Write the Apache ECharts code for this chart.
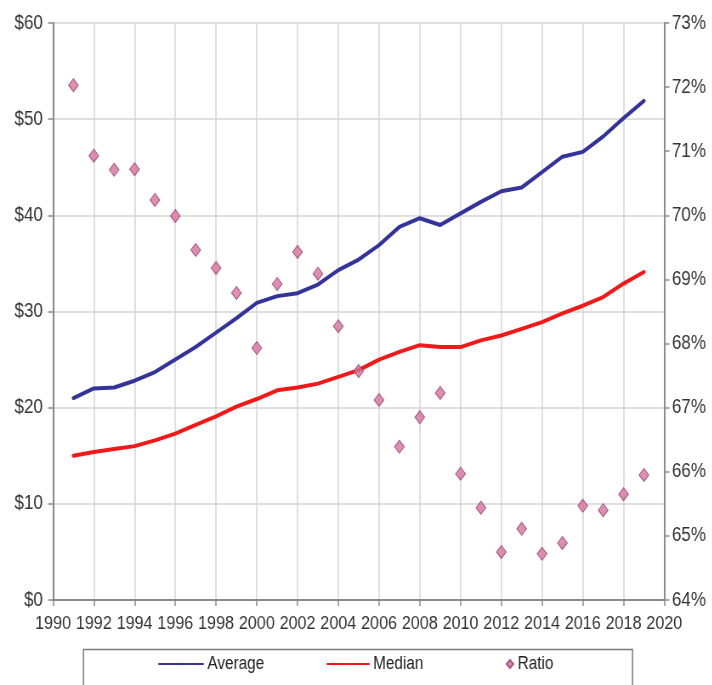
<!DOCTYPE html>
<html>
<head>
<meta charset="utf-8">
<script src="https://cdn.jsdelivr.net/npm/echarts@6/dist/echarts.min.js"></script>
<style>
  html, body { margin: 0; padding: 0; background: #ffffff; overflow: hidden; width: 712px; height: 685px; }
  /* the chart is drawn wide and narrowed horizontally for condensed lettering */
  #chart { width: 838px; height: 685px; transform: scaleX(0.85); transform-origin: 0 0; }
</style>
</head>
<body>
<div id="chart"></div>
<script>
// Years on the x axis
const years = [1991, 1992, 1993, 1994, 1995, 1996, 1997, 1998, 1999, 2000,
               2001, 2002, 2003, 2004, 2005, 2006, 2007, 2008, 2009, 2010,
               2011, 2012, 2013, 2014, 2015, 2016, 2017, 2018, 2019];

// Average hourly value ($)
const averageValues = [21.0, 22.0, 22.1, 22.8, 23.7, 25.0, 26.3, 27.8, 29.3, 30.9,
                       31.6, 31.9, 32.8, 34.3, 35.4, 36.9, 38.8, 39.7, 39.0, 40.2,
                       41.4, 42.5, 42.9, 44.5, 46.1, 46.6, 48.2, 50.1, 51.9];

// Median hourly value ($)
const medianValues = [15.0, 15.4, 15.7, 16.0, 16.6, 17.3, 18.2, 19.1, 20.1, 20.9,
                      21.8, 22.1, 22.5, 23.2, 23.9, 25.0, 25.8, 26.5, 26.3, 26.3,
                      27.0, 27.5, 28.2, 28.9, 29.8, 30.6, 31.5, 32.9, 34.1];

// Median / average ratio (%)
const ratioValues = [72.03, 70.93, 70.71, 70.72, 70.24, 69.99, 69.46, 69.18, 68.79, 67.93,
                     68.93, 69.43, 69.09, 68.27, 67.57, 67.12, 66.39, 66.85, 67.23, 65.97,
                     65.44, 64.75, 65.11, 64.72, 64.89, 65.47, 65.40, 65.65, 65.95];

// Axis ranges
const yearMin = 1990, yearMax = 2020, yearStep = 2;
const dollarMin = 0, dollarMax = 60, dollarStep = 10;
const pctMin = 64, pctMax = 73, pctStep = 1;

const FONT = '"Liberation Sans", Arial, sans-serif';
const TEXT = '#333333';
const AXIS = '#8a8a8a';
const GRID = '#d6d6d6';
const BLUE = '#333399';
const RED = '#f01818';
const PINK = '#d2739e';
const PINK_EDGE = '#9b3d6b';

const pairs = (vals) => years.map((y, i) => [y, vals[i]]);

const chart = echarts.init(document.getElementById('chart'), null, { renderer: 'canvas' });

const legendBase = {
  orient: 'horizontal',
  top: 650,
  itemGap: 4,
  textStyle: { fontFamily: FONT, fontSize: 18, color: '#222' },
  selectedMode: false
};

chart.setOption({
  backgroundColor: '#ffffff',
  animation: false,
  grid: { left: 62.4, right: 56.5, top: 23, bottom: 85, containLabel: false },
  graphic: [{
    type: 'rect',
    shape: { x: 98.2, y: 649.5, width: 646, height: 50 },
    style: { fill: 'none', stroke: '#7a7a7a', lineWidth: 1.5 },
    silent: true
  }],
  legend: [
    Object.assign({}, legendBase, {
      left: 181, data: [{ name: 'Average' }], itemWidth: 52, itemHeight: 3
    }),
    Object.assign({}, legendBase, {
      left: 379, data: [{ name: 'Median' }], itemWidth: 49, itemHeight: 3
    }),
    Object.assign({}, legendBase, {
      left: 590, data: [{ name: 'Ratio' }], itemWidth: 8, itemHeight: 8, itemGap: 14
    })
  ],
  xAxis: {
    type: 'value',
    min: yearMin, max: yearMax, interval: yearStep,
    axisLine: { show: true, onZero: false, lineStyle: { color: AXIS, width: 2 } },
    axisTick: { show: true, inside: false, length: 6, lineStyle: { color: AXIS, width: 1.5 } },
    splitLine: { show: true, lineStyle: { color: GRID, width: 1.5 } },
    axisLabel: {
      fontFamily: FONT, fontSize: 19, color: TEXT, margin: 14,
      formatter: (v) => String(v)
    }
  },
  yAxis: [{
    type: 'value',
    position: 'left',
    min: dollarMin, max: dollarMax, interval: dollarStep,
    axisLine: { show: true, onZero: false, lineStyle: { color: AXIS, width: 2 } },
    axisTick: { show: true, length: 6, lineStyle: { color: AXIS, width: 1.5 } },
    splitLine: { show: true, lineStyle: { color: GRID, width: 1.5 } },
    axisLabel: {
      fontFamily: FONT, fontSize: 20, color: TEXT, margin: 12,
      formatter: (v) => '$' + v
    }
  }, {
    type: 'value',
    position: 'right',
    min: pctMin, max: pctMax, interval: pctStep,
    axisLine: { show: true, onZero: false, lineStyle: { color: AXIS, width: 2 } },
    axisTick: { show: true, length: 6, lineStyle: { color: AXIS, width: 1.5 } },
    splitLine: { show: false },
    axisLabel: {
      fontFamily: FONT, fontSize: 20, color: TEXT, margin: 9,
      formatter: (v) => v + '%'
    }
  }],
  series: [{
    name: 'Average',
    type: 'line',
    yAxisIndex: 0,
    data: pairs(averageValues),
    showSymbol: false,
    symbol: 'none',
    lineStyle: { color: BLUE, width: 4, join: 'round', cap: 'round' },
    itemStyle: { color: BLUE },
    z: 3
  }, {
    name: 'Median',
    type: 'line',
    yAxisIndex: 0,
    data: pairs(medianValues),
    showSymbol: false,
    symbol: 'none',
    lineStyle: { color: RED, width: 4, join: 'round', cap: 'round' },
    itemStyle: { color: RED },
    z: 3
  }, {
    name: 'Ratio',
    type: 'scatter',
    yAxisIndex: 1,
    data: pairs(ratioValues),
    symbol: 'diamond',
    symbolSize: [11.5, 13],
    itemStyle: { color: PINK, borderColor: PINK_EDGE, borderWidth: 1 },
    z: 4
  }]
});
</script>
</body>
</html>
